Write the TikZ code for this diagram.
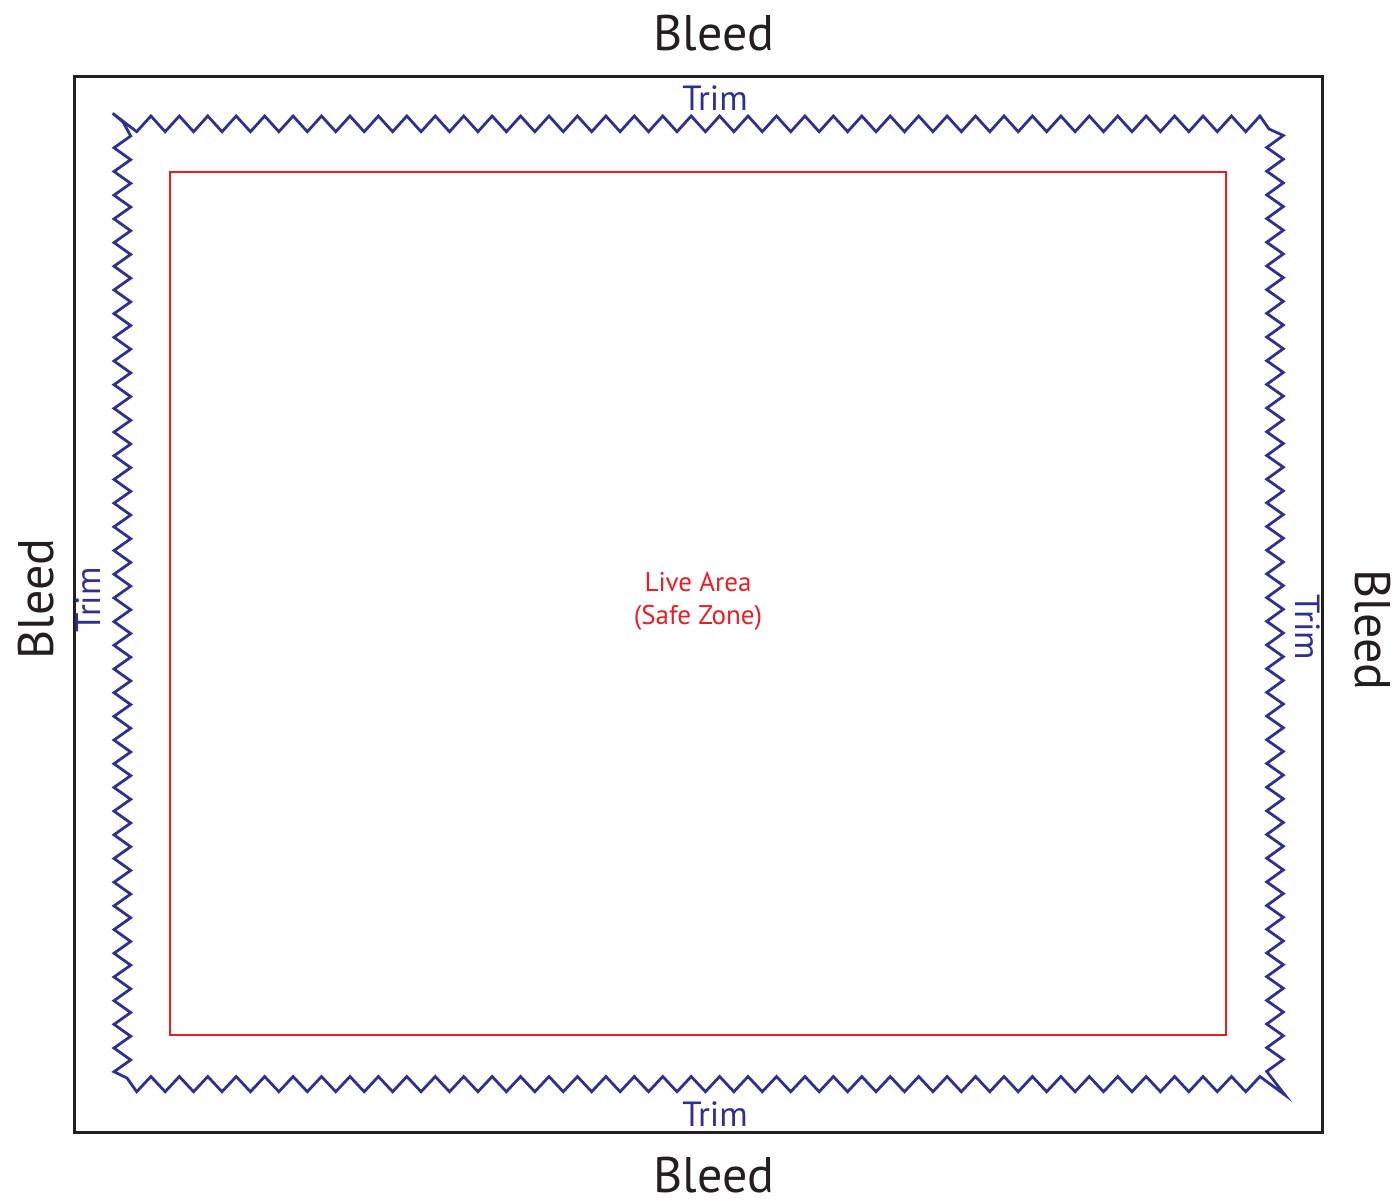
\documentclass[tikz,border=0pt]{standalone}
\usepackage{fontspec}
\setmainfont{PT Sans}
\definecolor{bleedblack}{HTML}{231F20}
\definecolor{trimblue}{HTML}{2E3192}
\definecolor{livered}{HTML}{ED1C24}
\begin{document}
\begin{tikzpicture}[x=1pt,y=-1pt,
  bleedline/.style={draw=bleedblack,line width=3pt},
  trimline/.style={draw=trimblue,line width=2.8pt,line join=miter},
  liveline/.style={draw=livered,line width=2.4pt},
  bleedtext/.style={text=bleedblack,font=\fontsize{50}{50}\selectfont,inner sep=0pt,anchor=base},
  trimtext/.style={text=trimblue,font=\fontsize{35}{35}\selectfont,inner sep=0pt,anchor=base},
  livetext/.style={text=livered,font=\fontsize{27}{33}\selectfont,inner sep=0pt,align=center}]
\useasboundingbox (0,0) rectangle (1396,1200);
% bleed (outer) rectangle
\draw[bleedline] (74,76) rectangle (1322,1132);
% live area
\draw[liveline] (170,172) rectangle (1226,1035);
% trim zigzag
\draw[trimline] (112.7,113.3)
  foreach \k in {0,...,39} { -- ({136.7+28.436*\k},131.7) -- ({150.9+28.436*\k},116) }
  -- (1269,129)
  foreach \k in {0,...,39} { -- (1283.3,{135.5+23.69*\k}) -- (1266.7,{147.5+23.69*\k}) }
  -- (1285,1095)
  foreach \k in {39,38,...,0} { -- ({150.9+28.436*\k},1076.5) -- ({136.7+28.436*\k},1091.7) }
  -- (127,1078)
  foreach \k in {39,38,...,0} { -- (114,{147.8+23.69*\k}) -- (130.7,{136+23.69*\k}) }
  -- (123,122) -- cycle;
% labels
\node[bleedtext] (bleedtop) at (714,50) {Bleed};
\node[bleedtext] (bleedbottom) at (714,1192) {Bleed};
\node[bleedtext,rotate=90] (bleedleft) at (53.3,599) {Bleed};
\node[bleedtext,rotate=-90] (bleedright) at (1355,630) {Bleed};
\node[trimtext] (trimtop) at (715,110) {Trim};
\node[trimtext] (trimbottom) at (715,1126) {Trim};
\node[trimtext,rotate=90] (trimleft) at (100,600) {Trim};
\node[trimtext,rotate=-90] (trimright) at (1295,627.5) {Trim};
\node[livetext] (live) at (698,601) {Live Area\\(Safe Zone)};
\end{tikzpicture}
\end{document}
